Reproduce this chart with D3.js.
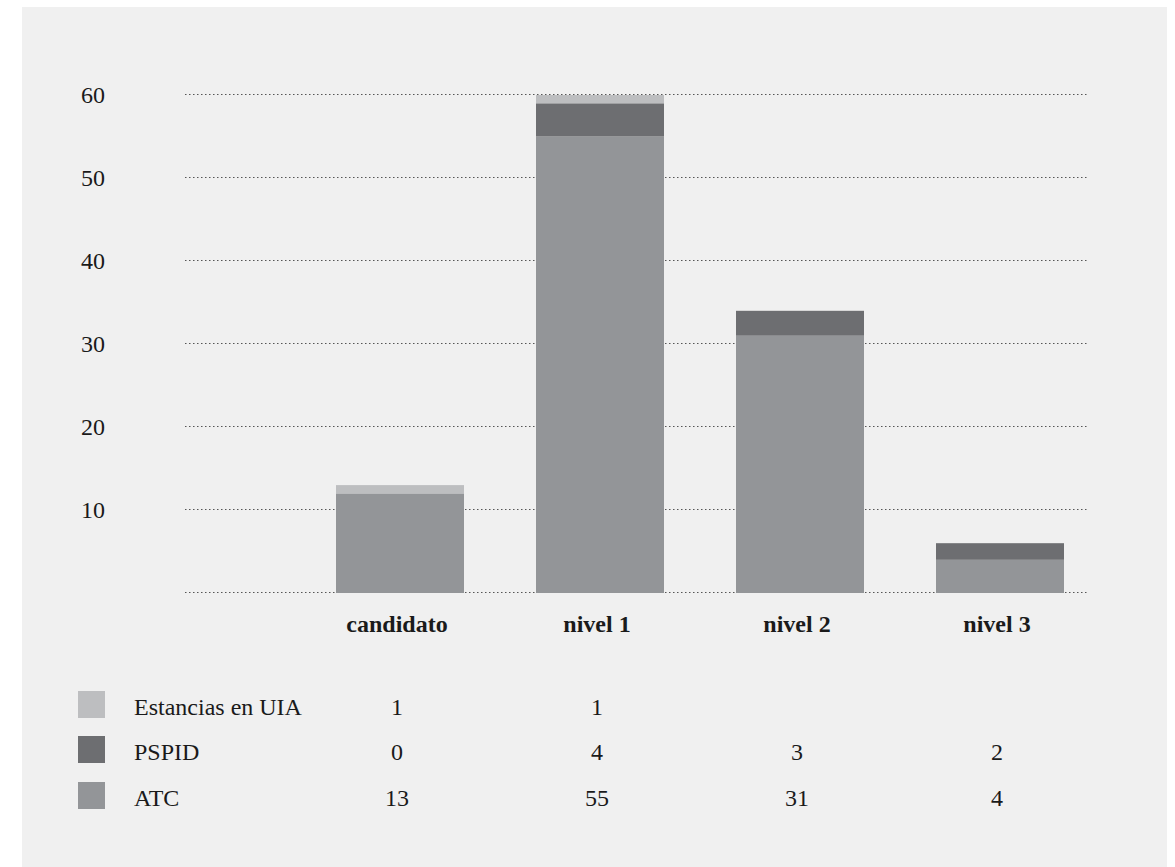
<!DOCTYPE html>
<html>
<head>
<meta charset="utf-8">
<script src="https://cdn.jsdelivr.net/npm/d3@7"></script>
<style>
html,body{margin:0;padding:0;background:#fff;}
svg{display:block;}
text{font-family:"Liberation Serif","DejaVu Serif",serif;fill:#1a1a1a;}
</style>
</head>
<body>
<svg id="chart" width="1175" height="867"></svg>
<script>
// ---- data ----
const categories = ["candidato", "nivel 1", "nivel 2", "nivel 3"];
const seriesNames = ["ATC", "PSPID", "Estancias en UIA"];
// bar heights as drawn in the picture
const atc    = [12, 55, 31, 4];
const pspid  = [0, 4, 3, 2];
const uia    = [1, 1, 0, 0];
// values printed in the table under the chart
const tableUIA   = ["1", "1", "", ""];
const tablePSPID = ["0", "4", "3", "2"];
const tableATC   = ["13", "55", "31", "4"];
const yTicks = [10, 20, 30, 40, 50, 60];

const colors = {"ATC": "#939598", "PSPID": "#6d6e71", "Estancias en UIA": "#bdbec0"};

// ---- layout ----
const svg = d3.select("#chart");
svg.append("rect").attr("x", 22).attr("y", 7).attr("width", 1145).attr("height", 860).attr("fill", "#f0f0f0");

const x = d3.scaleBand().domain(categories).range([300, 1100]).paddingInner(0.36).paddingOuter(0.18);
const y = d3.scaleLinear().domain([0, 60]).range([593, 95]);

// gridlines
const grid = svg.append("g");
grid.selectAll("line").data([0].concat(yTicks)).join("line")
  .attr("x1", 185).attr("x2", 1089)
  .attr("y1", d => y(d) - 0.5).attr("y2", d => y(d) - 0.5)
  .attr("stroke", "#555").attr("stroke-width", 1).attr("stroke-dasharray", "1.5,2.5");

// y axis labels
svg.append("g").selectAll("text").data(yTicks).join("text")
  .attr("x", 105).attr("y", d => y(d)).attr("dy", "0.34em")
  .attr("text-anchor", "end").attr("font-size", 24).text(d => d);

// stacked bars
const rows = categories.map((c, i) => ({cat: c, "ATC": atc[i], "PSPID": pspid[i], "Estancias en UIA": uia[i]}));
const stack = d3.stack().keys(seriesNames)(rows);
svg.append("g").selectAll("g").data(stack).join("g")
  .attr("fill", d => colors[d.key])
  .selectAll("rect").data(d => d.filter(p => p[1] - p[0] > 0)).join("rect")
  .attr("x", d => x(d.data.cat))
  .attr("width", x.bandwidth())
  .attr("y", d => y(d[1]))
  .attr("height", d => y(d[0]) - y(d[1]));

// category labels
svg.append("g").selectAll("text").data(categories).join("text")
  .attr("x", d => x(d) + x.bandwidth() / 2 - 3).attr("y", 632)
  .attr("text-anchor", "middle").attr("font-size", 24).attr("font-weight", "bold").text(d => d);

// legend table
const tableRows = [
  {name: "Estancias en UIA", vals: tableUIA, y: 691},
  {name: "PSPID", vals: tablePSPID, y: 736},
  {name: "ATC", vals: tableATC, y: 782}
];
const tg = svg.append("g");
tableRows.forEach(r => {
  tg.append("rect").attr("x", 78).attr("y", r.y).attr("width", 27).attr("height", 27).attr("fill", colors[r.name]);
  tg.append("text").attr("x", 134).attr("y", r.y + 24).attr("font-size", 24).text(r.name);
  tg.selectAll(null).data(r.vals.map((v, i) => ({v, c: categories[i]}))).join("text")
    .attr("x", d => x(d.c) + x.bandwidth() / 2 - 3).attr("y", r.y + 24)
    .attr("text-anchor", "middle").attr("font-size", 24).text(d => d.v);
});
</script>
</body>
</html>
